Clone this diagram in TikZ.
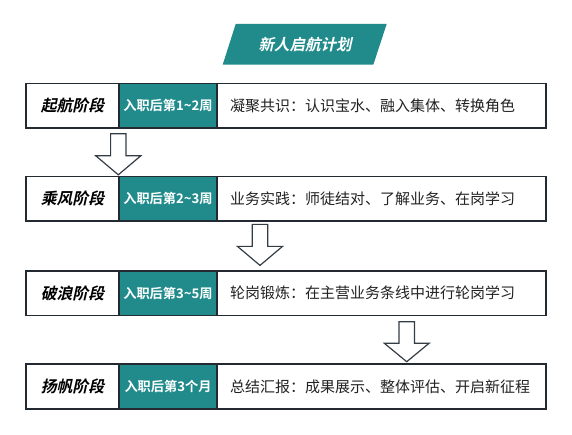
\documentclass[tikz,border=0pt]{standalone}
\usepackage{fontspec}
\setmainfont{Noto Sans CJK SC}
\newfontfamily\cjkbold{Noto Sans CJK SC Bold}
\newfontfamily\cjkbolditalic{Noto Sans CJK SC Bold}[FakeSlant=0.22]
\definecolor{tealc}{HTML}{218B8C}
\definecolor{borderc}{HTML}{232A31}
\definecolor{arrowc}{HTML}{343D45}
\definecolor{textc}{HTML}{222222}
\tikzset{
  cell/.style={draw=borderc, line width=1.8pt, minimum height=44.5pt, inner sep=0pt, anchor=north west, outer sep=0pt},
  stagecell/.style={cell, fill=white, minimum width=93.7pt, text=black, font=\cjkbolditalic\fontsize{15.8}{17}\selectfont},
  timecell/.style={cell, fill=tealc, minimum width=97.4pt, text=white, font=\cjkbold\fontsize{13.2}{14}\selectfont},
  desccell/.style={cell, fill=white, text width=302.8pt, inner xsep=13.3pt, align=left, text=textc, font=\fontsize{15}{16}\selectfont},
  arrowstyle/.style={draw=arrowc, fill=white, line width=1.2pt, line join=miter},
  downarrow/.pic={\draw[arrowstyle] (-7.7,0) -- (7.7,0) -- (7.7,22) -- (22.5,22) -- (0,41) -- (-22.5,22) -- (-7.7,22) -- cycle;},
  titletext/.style={text=white, font=\cjkbolditalic\fontsize{15.5}{17}\selectfont}
}
\begin{document}
\begin{tikzpicture}[x=1pt,y=-1pt]
\useasboundingbox[fill=white] (0,0) rectangle (572,435);
% title
\fill[tealc] (235.7,24) -- (386.7,24) -- (373.3,64.7) -- (222.7,64.7) -- cycle;
\node[titletext] (title) at (305,44.2) {新人启航计划};
% row 1
\node[stagecell] (s1) at (25.6,83.6) {起航阶段};
\node[timecell] (t1) at (s1.north east) {入职后第1\textasciitilde2周};
\node[desccell] (d1) at (t1.north east) {\raisebox{-1.5pt}{凝聚共识：认识宝水、融入集体、转换角色}};
% row 2
\node[stagecell] (s2) at (25.6,176.6) {乘风阶段};
\node[timecell] (t2) at (s2.north east) {入职后第2\textasciitilde3周};
\node[desccell] (d2) at (t2.north east) {\raisebox{-1.5pt}{业务实践：师徒结对、了解业务、在岗学习}};
% row 3
\node[stagecell] (s3) at (25.6,270.9) {破浪阶段};
\node[timecell] (t3) at (s3.north east) {入职后第3\textasciitilde5周};
\node[desccell] (d3) at (t3.north east) {\raisebox{-1.5pt}{轮岗锻炼：在主营业务条线中进行轮岗学习}};
% row 4
\node[stagecell] (s4) at (25.6,364.2) {扬帆阶段};
\node[timecell] (t4) at (s4.north east) {入职后第3个月};
\node[desccell] (d4) at (t4.north east) {\raisebox{-1.5pt}{总结汇报：成果展示、整体评估、开启新征程}};
% arrows
\path (t1.south west) ++(-1,5.7) pic {downarrow};
\path (d2.south west) ++(43.3,3.3) pic {downarrow};
\path (d3.south west) ++(190,6.3) pic[yscale=0.976] {downarrow};
\end{tikzpicture}
\end{document}
